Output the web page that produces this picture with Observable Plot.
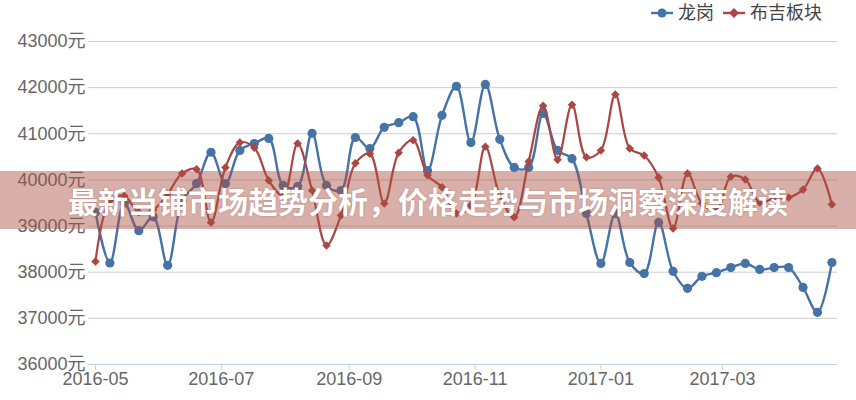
<!DOCTYPE html>
<html>
<head>
<meta charset="utf-8">
<script src="https://cdn.jsdelivr.net/npm/d3@7"></script>
<script src="https://cdn.jsdelivr.net/npm/@observablehq/plot@0.6"></script>
<style>
  html, body { margin: 0; padding: 0; background: #fff; }
  #wrap { position: relative; width: 856px; height: 400px; overflow: hidden; font-family: 'Liberation Sans', Arial, 'Noto Sans CJK SC', sans-serif; }
  #legend { position: absolute; left: 651px; top: 2px; display: flex; align-items: center; font-size: 18px; color: #444; line-height: 22px; font-family: 'Liberation Sans', Arial, 'Noto Sans CJK SC', sans-serif; }
  #legend .item { display: flex; align-items: center; }
  #legend svg { margin-right: 5px; }
  #banner { position: absolute; left: 0; top: 171px; width: 856px; height: 58px; background: rgba(170, 80, 65, 0.45); color: #fff; font-family: 'Noto Sans CJK SC', sans-serif; font-weight: 700; font-size: 30px; line-height: 58px; text-align: center; text-shadow: 0 0 2px rgba(80, 30, 20, 0.35); white-space: nowrap; }
</style>
</head>
<body>
<div id="wrap">
  <div id="chart"></div>
  <div id="legend"></div>
  <div id="banner"></div>
</div>
<script>
const title = "最新当铺市场趋势分析，价格走势与市场洞察深度解读";
const seriesNames = ["龙岗", "布吉板块"];
const seriesColors = ["#4572A7", "#AA4643"];

const dates = [
  "2016-05-01","2016-05-08","2016-05-15","2016-05-22","2016-05-29",
  "2016-06-05","2016-06-12","2016-06-19","2016-06-26",
  "2016-07-03","2016-07-10","2016-07-17","2016-07-24","2016-07-31",
  "2016-08-07","2016-08-14","2016-08-21","2016-08-28",
  "2016-09-04","2016-09-11","2016-09-18","2016-09-25",
  "2016-10-02","2016-10-09","2016-10-16","2016-10-23","2016-10-30",
  "2016-11-06","2016-11-13","2016-11-20","2016-11-27",
  "2016-12-04","2016-12-11","2016-12-18","2016-12-25",
  "2017-01-01","2017-01-08","2017-01-15","2017-01-22","2017-01-29",
  "2017-02-05","2017-02-12","2017-02-19","2017-02-26",
  "2017-03-05","2017-03-12","2017-03-19","2017-03-26",
  "2017-04-02","2017-04-09","2017-04-16","2017-04-23"
];

const longgang = [
  39300, 38200, 39500, 38900, 39200, 38150, 39550, 39920, 40600, 39920,
  40640, 40790, 40900, 39880, 39860, 41010, 39880, 39770, 40920, 40680,
  41140, 41240, 41370, 40200, 41400, 42030, 40810, 42070, 40880, 40270,
  40270, 41440, 40640, 40460, 39270, 38190, 39270, 38210, 37970, 39080,
  38020, 37650, 37910, 37990, 38100, 38190, 38060, 38100, 38100, 37670,
  37130, 38210
];

const buji = [
  38230, 39550, 39650, 39300, 39350, 39700, 40140, 40230, 39080, 40270,
  40810, 40700, 39990, 39660, 40790, 39770, 38580, 39230, 40360, 40570,
  39490, 40590, 40860, 40100, 39840, 39270, 39450, 40720, 39660, 39190,
  40400, 41610, 40440, 41630, 40490, 40640, 41850, 40680, 40530, 40050,
  38950, 40140, 39490, 39340, 40070, 40010, 39510, 39600, 39620, 39790,
  40250, 39470
];

const yTicks = [36000, 37000, 38000, 39000, 40000, 41000, 42000, 43000];
const xTickLabels = ["2016-05", "2016-07", "2016-09", "2016-11", "2017-01", "2017-03"];

const parsedDates = dates.map(s => new Date(s + "T00:00:00Z"));
const blueData = parsedDates.map((d, i) => ({date: d, value: longgang[i]}));
const redData = parsedDates.map((d, i) => ({date: d, value: buji[i]}));
const xTicks = xTickLabels.map(s => new Date(s + "-01T00:00:00Z"));
const xDomain = [d3.utcHour.offset(parsedDates[0], -81), d3.utcHour.offset(parsedDates[parsedDates.length - 1], 65)];

const chart = Plot.plot({
  width: 856,
  height: 400,
  marginLeft: 88,
  marginRight: 19,
  marginTop: 41,
  marginBottom: 36,
  style: {
    fontFamily: "'Liberation Sans', Arial, 'Noto Sans CJK SC', sans-serif",
    fontSize: "18px",
    color: "#666",
    background: "#fff",
    overflow: "visible"
  },
  x: {type: "utc", domain: xDomain, label: null},
  y: {domain: [36000, 43000], label: null},
  marks: [
    Plot.gridY({ticks: yTicks, stroke: "#cccccc", strokeOpacity: 1, strokeWidth: 1}),
    Plot.axisY({ticks: yTicks, tickSize: 0, tickPadding: 3, tickFormat: d => d + "元", fill: "#666", fontSize: 18, label: null}),
    Plot.ruleY([36000], {stroke: "#C0D0E0", strokeWidth: 1}),
    Plot.axisX({ticks: xTicks, tickSize: 6, tickPadding: 2, tickFormat: d3.utcFormat("%Y-%m"), stroke: "#C0D0E0", fill: "#666", fontSize: 18, label: null}),
    Plot.line(blueData, {x: "date", y: "value", stroke: seriesColors[0], strokeWidth: 2.4, curve: "catmull-rom"}),
    Plot.dot(blueData, {x: "date", y: "value", r: 4.6, fill: seriesColors[0]}),
    Plot.line(redData, {x: "date", y: "value", stroke: seriesColors[1], strokeWidth: 2.2, curve: "catmull-rom"}),
    Plot.dot(redData, {x: "date", y: "value", symbol: "square", rotate: 45, r: 3.4, fill: seriesColors[1]})
  ]
});
document.getElementById("chart").appendChild(chart);

// Legend
const legend = document.getElementById("legend");
seriesNames.forEach((name, i) => {
  const item = document.createElement("div");
  item.className = "item";
  item.style.marginRight = i === 0 ? "9px" : "0";
  const marker = i === 0
    ? `<circle cx="11" cy="11" r="4.5" fill="${seriesColors[i]}"/>`
    : `<rect x="7.5" y="7.5" width="7" height="7" fill="${seriesColors[i]}" transform="rotate(45 11 11)"/>`;
  item.innerHTML = `<svg width="22" height="22"><line x1="0" x2="22" y1="11" y2="11" stroke="${seriesColors[i]}" stroke-width="2.4"/>${marker}</svg><span>${name}</span>`;
  legend.appendChild(item);
});

document.getElementById("banner").textContent = title;
</script>
</body>
</html>
